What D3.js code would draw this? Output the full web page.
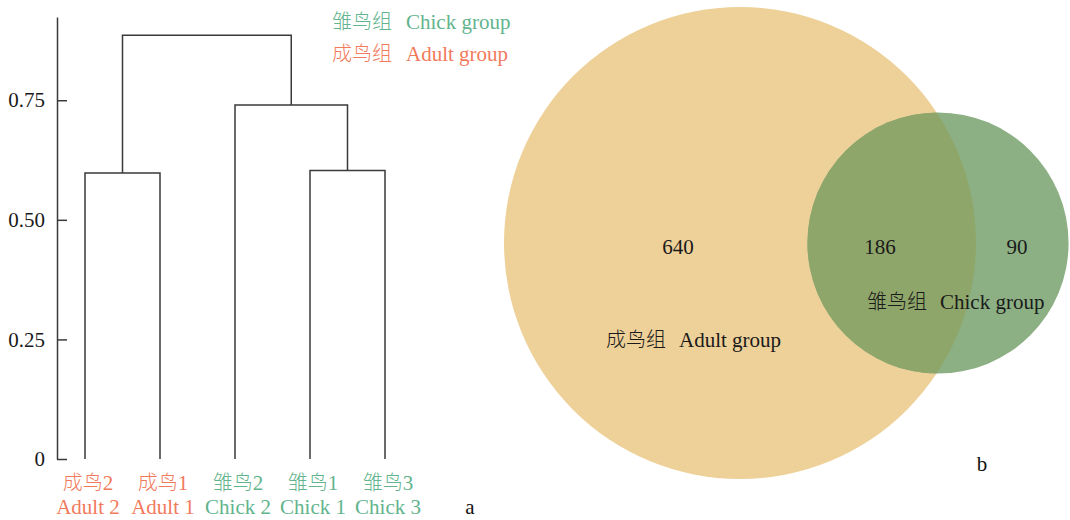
<!DOCTYPE html>
<html>
<head>
<meta charset="utf-8">
<script src="https://cdn.jsdelivr.net/npm/d3@7/dist/d3.min.js"></script>
<style>
  html, body { margin: 0; padding: 0; background: #fff; }
  svg { display: block; }
  text { font-family: "Liberation Serif", "Times New Roman", "Noto Sans CJK SC", serif; font-size: 21px; }
  .cjk { font-family: "Noto Sans CJK SC", sans-serif; font-size: 20px; font-weight: 300; }
</style>
</head>
<body>
<svg id="chart" width="1070" height="520"></svg>
<script>
// ---- Panel a: hierarchical clustering of samples ----
const leafIds   = ["Adult 2", "Adult 1", "Chick 2", "Chick 1", "Chick 3"];
const leafCN    = ["成鸟2", "成鸟1", "雏鸟2", "雏鸟1", "雏鸟3"];
const leafGroup = ["adult", "adult", "chick", "chick", "chick"];
// hclust-style merge table: negative = leaf (1-based), positive = earlier merge step
const mergeLeft   = [-1, -4, -3, 1];
const mergeRight  = [-2, -5, 2, 3];
const mergeHeight = [0.598, 0.603, 0.740, 0.886];
const yTickValues = [0, 0.25, 0.5, 0.75];
const yTickLabels = ["0", "0.25", "0.50", "0.75"];

// legend entries
const groupKeys   = ["chick", "adult"];
const groupCN     = ["雏鸟组", "成鸟组"];
const groupEN     = ["Chick group", "Adult group"];
const groupColors = { chick: "#62b48d", adult: "#f27a5c" };

// ---- Panel b: Venn diagram of shared / unique features ----
const vennCN     = ["成鸟组", "雏鸟组"];
const vennEN     = ["Adult group", "Chick group"];
const adultOnly  = 640;
const shared     = 186;
const chickOnly  = 90;

const svg = d3.select("#chart");
const ink = "#3a3a3a";

// ===== Dendrogram =====
const axisX = 57;
const y = d3.scaleLinear().domain([0, 0.924]).range([459, 17]);
const x = d3.scalePoint().domain(leafIds).range([85, 385]);

const gA = svg.append("g");

const yAxis = d3.axisLeft(y)
  .tickValues(yTickValues)
  .tickFormat((d, i) => yTickLabels[i])
  .tickSizeInner(-10)
  .tickSizeOuter(0)
  .tickPadding(12);

const axisG = gA.append("g")
  .attr("transform", `translate(${axisX},0)`)
  .call(yAxis);
axisG.select(".domain").attr("stroke", ink).attr("stroke-width", 1.5);
axisG.selectAll(".tick line").attr("stroke", ink).attr("stroke-width", 1.5);
axisG.selectAll(".tick text")
  .attr("fill", "#1a1a1a")
  .style("font-size", "21px")
  .style("font-family", "'Liberation Serif', serif");

// resolve node positions from the merge table
function nodePos(ref, steps) {
  if (ref < 0) {
    const id = leafIds[-ref - 1];
    return { x: x(id), h: 0 };
  }
  return steps[ref - 1];
}
const steps = [];
const links = [];
mergeLeft.forEach((l, i) => {
  const a = nodePos(l, steps);
  const b = nodePos(mergeRight[i], steps);
  const h = mergeHeight[i];
  steps.push({ x: (a.x + b.x) / 2, h: h });
  links.push({ a, b, h });
});

gA.append("g")
  .selectAll("path")
  .data(links)
  .join("path")
  .attr("fill", "none")
  .attr("stroke", ink)
  .attr("stroke-width", 1.5)
  .attr("d", d => `M${d.a.x},${y(d.a.h)}V${y(d.h)}H${d.b.x}V${y(d.b.h)}`);

// leaf labels
const leafG = gA.append("g")
  .selectAll("g")
  .data(leafIds)
  .join("g")
  .attr("transform", d => `translate(${x(d) + 3},0)`);
leafG.append("text")
  .attr("y", 490)
  .attr("text-anchor", "middle")
  .attr("fill", (d, i) => groupColors[leafGroup[i]])
  .call(t => {
    t.append("tspan").attr("class", "cjk").text((d, i) => leafCN[i].slice(0, 2));
    t.append("tspan").text((d, i) => leafCN[i].slice(2));
  });
leafG.append("text")
  .attr("y", 514)
  .attr("text-anchor", "middle")
  .attr("fill", (d, i) => groupColors[leafGroup[i]])
  .text(d => d);

// legend
const legend = gA.append("g")
  .selectAll("text")
  .data(groupKeys)
  .join("text")
  .attr("x", 332)
  .attr("y", (d, i) => 29 + i * 32)
  .attr("fill", d => groupColors[d]);
legend.append("tspan").attr("class", "cjk").text((d, i) => groupCN[i]);
legend.append("tspan").attr("dx", 14).text((d, i) => groupEN[i]);

gA.append("text")
  .attr("x", 470).attr("y", 514)
  .attr("text-anchor", "middle")
  .attr("fill", "#111")
  .text("a");

// ===== Venn diagram =====
const adultTotal = adultOnly + shared;
const chickTotal = chickOnly + shared;
const r = d3.scalePow().exponent(0.54).domain([0, adultTotal]).range([0, 236]);

const cy = 243;
const adultC = { cx: 740, cy: cy, r: r(adultTotal) };
const chickC = { cx: 740 + 198, cy: cy, r: r(chickTotal) };

const gB = svg.append("g");
const defs = svg.append("defs");
defs.append("clipPath").attr("id", "adultClip")
  .append("circle")
  .attr("cx", adultC.cx).attr("cy", adultC.cy).attr("r", adultC.r);

gB.append("circle")
  .attr("cx", adultC.cx).attr("cy", adultC.cy).attr("r", adultC.r)
  .attr("fill", "#eed099");
gB.append("circle")
  .attr("cx", chickC.cx).attr("cy", chickC.cy).attr("r", chickC.r)
  .attr("fill", "#8cb083");
gB.append("circle")
  .attr("clip-path", "url(#adultClip)")
  .attr("cx", chickC.cx).attr("cy", chickC.cy).attr("r", chickC.r)
  .attr("fill", "#8fa66a");

// region counts
const counts = [
  { v: adultOnly, x: 678 },
  { v: shared,    x: 880 },
  { v: chickOnly, x: 1017 }
];
gB.append("g")
  .selectAll("text")
  .data(counts)
  .join("text")
  .attr("x", d => d.x)
  .attr("y", 254)
  .attr("text-anchor", "middle")
  .attr("fill", "#1a1a1a")
  .text(d => d.v);

// set names
const setLabelPos = [
  { x: 606, y: 347 },
  { x: 867, y: 309 }
];
const setLabels = gB.append("g")
  .selectAll("text")
  .data(setLabelPos)
  .join("text")
  .attr("x", d => d.x)
  .attr("y", d => d.y)
  .attr("fill", "#1a1a1a");
setLabels.append("tspan").attr("class", "cjk").text((d, i) => vennCN[i]);
setLabels.append("tspan").attr("dx", 13).text((d, i) => vennEN[i]);

gB.append("text")
  .attr("x", 982).attr("y", 471)
  .attr("text-anchor", "middle")
  .attr("fill", "#111")
  .text("b");
</script>
</body>
</html>
